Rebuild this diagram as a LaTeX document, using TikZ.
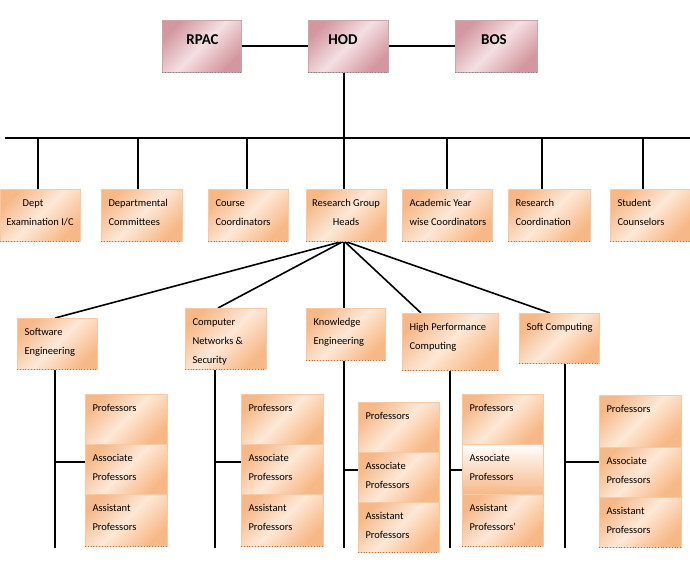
\documentclass[tikz,border=0pt]{standalone}
\usepackage{fontspec}
\setmainfont{Carlito}
\usetikzlibrary{backgrounds,calc}
\definecolor{oD}{HTML}{F7B887}
\definecolor{oL}{HTML}{FDE8D7}
\definecolor{oB}{HTML}{F7C8A3}
\definecolor{oDot}{HTML}{A07858}
\definecolor{pD}{HTML}{D4979F}
\definecolor{pL}{HTML}{F4E0E3}
\definecolor{pB}{HTML}{C8A6AB}
\newcommand\bx[6]{\node[#2, minimum width={#5-#3}, minimum height={#6-#4}] (#1) at ({(#3+#5)/2},{(#4+#6)/2}) {};}
\newcommand\lt[2]{\node[lbl] (#1-t) at ([shift={(7.5,4.5)}]#1.north west) {\strut#2};}
\tikzset{
  obox/.style={draw=oB, line width=0.6pt, left color=oD, right color=oD, middle color=oL, shading angle=45, inner sep=0pt, outer sep=0pt},
  wbox/.style={draw=oB, line width=0.6pt, top color=white, bottom color=oD, inner sep=0pt, outer sep=0pt},
  pbox/.style={draw=pB, line width=0.6pt, left color=pD, right color=pD, middle color=pL, shading angle=45, inner sep=0pt, outer sep=0pt},
  lbl/.style={font=\fontsize{10.5}{19}\selectfont, inner sep=0pt, outer sep=0pt, align=left, anchor=north west},
  clbl/.style={lbl, align=center, anchor=north},
  hlbl/.style={font=\fontsize{15}{18}\selectfont\bfseries, inner sep=0pt, anchor=base},
  conn/.style={line width=1.6pt, black},
  dots/.style={dotted, line width=0.8pt, draw=oDot},
}
\begin{document}
\begin{tikzpicture}[x=1pt,y=-1pt]
\useasboundingbox (0,0) rectangle (690,584);
% top row
\bx{rpac}{pbox}{162}{20}{241}{72}
\bx{hod}{pbox}{308}{20}{388}{72}
\bx{bos}{pbox}{455}{20}{537}{72}
\node[hlbl] (rpac-t) at ([shift={(1,24)}]rpac.north) {RPAC};
\node[hlbl] (hod-t) at ([shift={(-5,24)}]hod.north) {HOD};
\node[hlbl] (bos-t) at ([shift={(-2,24)}]bos.north) {BOS};
% second row
\bx{d1}{obox}{0}{189}{80}{241}
\bx{d2}{obox}{101}{189}{182}{241}
\bx{d3}{obox}{208}{189}{288}{241}
\bx{d4}{obox}{306}{189}{386}{241}
\bx{d5}{obox}{402}{189}{492}{241}
\bx{d6}{obox}{508}{189}{590}{241}
\bx{d7}{obox}{610}{189}{690}{241}
\node[clbl] (d1-t) at ([shift={(0,4.5)}]d1.north) {\strut Dept\hspace*{14pt}\\Examination I/C};
\lt{d2}{Departmental\\Committees}
\lt{d3}{Course\\Coordinators}
\node[clbl] (d4-t) at ([shift={(0,4.5)}]d4.north) {\strut Research Group\\Heads};
\lt{d5}{Academic Year\\wise Coordinators}
\lt{d6}{Research\\Coordination}
\lt{d7}{Student\\Counselors}
% third row
\bx{r1}{obox}{17}{318}{97}{369}
\bx{r2}{obox}{185}{308}{266}{369}
\bx{r3}{obox}{306}{308}{385}{360}
\bx{r4}{obox}{402}{313}{498}{370}
\bx{r5}{obox}{519}{313}{599}{363}
\lt{r1}{Software\\Engineering}
\lt{r2}{Computer\\Networks \&\\Security}
\lt{r3}{Knowledge\\Engineering}
\lt{r4}{High Performance\\Computing}
\lt{r5}{Soft Computing}
% stacks
\bx{p1}{obox}{85}{394}{167}{444}
\bx{a1}{obox}{85}{444}{167}{494}
\bx{s1}{obox}{85}{494}{167}{546}
\bx{p2}{obox}{241}{394}{323}{444}
\bx{a2}{obox}{241}{444}{323}{494}
\bx{s2}{obox}{241}{494}{323}{546}
\bx{p3}{obox}{358}{402}{439}{452}
\bx{a3}{obox}{358}{452}{439}{502}
\bx{s3}{obox}{358}{502}{439}{552}
\bx{p4}{obox}{462}{394}{543}{444}
\bx{a4}{wbox}{462}{444}{543}{494}
\bx{s4}{obox}{462}{494}{543}{546}
\bx{p5}{obox}{599}{395}{681}{447}
\bx{a5}{obox}{599}{447}{681}{497}
\bx{s5}{obox}{599}{497}{681}{547}
\foreach \i in {1,2,3,5}{
  \lt{p\i}{Professors}
  \lt{a\i}{Associate\\Professors}
  \lt{s\i}{Assistant\\Professors}
}
\lt{p4}{Professors}
\lt{a4}{Associate\\Professors}
\lt{s4}{Assistant\\Professors'}
% dotted bottoms
\foreach \n in {rpac,hod,bos}{\draw[dots, draw=gray] (\n.south west) -- (\n.south east);}
\foreach \n in {d1,d2,d3,d4,d5,d6,d7,r1,r2,r3,r4,r5,s1,s2,s3,s4,s5}{\draw[dots] (\n.south west) -- (\n.south east);}
% connectors
\begin{scope}[on background layer]
\fill[white] (0,0) rectangle (690,584);
\coordinate (busL) at (5,138);
\coordinate (busR) at (690,138);
\coordinate (hb) at (344,138);
\draw[conn] (rpac.east) -- (hod.west);
\draw[conn] (hod.east) -- (bos.west);
\draw[conn] (busL) -- (busR);
\draw[conn] (hod.south -| hb) -- (d4.north -| hb);
\foreach \n/\x in {d1/38,d2/138,d3/247,d5/447,d6/542,d7/643}{
  \coordinate (t-\n) at (\x,138);
  \draw[conn] (t-\n) -- (t-\n |- \n.north);
}
\coordinate (rgs) at (344,241);
\coordinate (v1) at (55,548);
\coordinate (v2) at (215,548);
\coordinate (v3) at (344,548);
\coordinate (v4) at (450,548);
\coordinate (v5) at (565,548);
\draw[conn] (rgs) -- (v1 |- r1.north);
\draw[conn] (rgs) -- ([xshift=-7.5pt]r2.north);
\draw[conn] (rgs) -- (v3 |- r3.north);
\draw[conn] (rgs) -- ([xshift=-29pt]r4.north);
\draw[conn] (rgs) -- ([xshift=-9pt]r5.north);
\draw[conn] (r1.south -| v1) -- (v1);
\draw[conn] (r2.south -| v2) -- (v2);
\draw[conn] (r3.south -| v3) -- (v3);
\draw[conn] (r4.south -| v4) -- (v4);
\draw[conn] (r5.south -| v5) -- (v5);
\coordinate (j1) at (55,462);
\coordinate (j2) at (215,462);
\coordinate (j3) at (344,470);
\coordinate (j4) at (450,470);
\coordinate (j5) at (565,462);
\foreach \i in {1,...,5}{\draw[conn] (j\i) -- (j\i -| a\i.west);}
\end{scope}
\end{tikzpicture}
\end{document}
